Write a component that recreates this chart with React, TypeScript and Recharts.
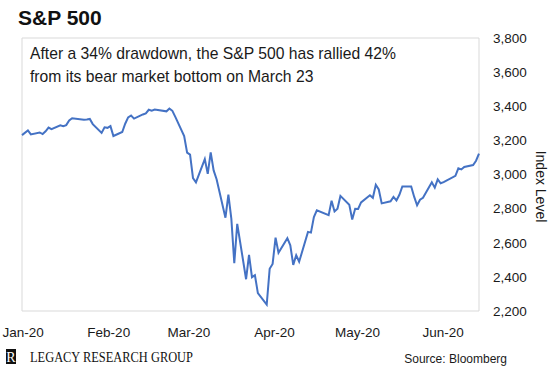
import { LineChart, Line, XAxis, YAxis, ReferenceArea } from "recharts";

// S&P 500 daily closes, trading days
const dates = [
  "2019-12-31",
  "2020-01-02", "2020-01-03", "2020-01-06", "2020-01-07", "2020-01-08", "2020-01-09", "2020-01-10",
  "2020-01-13", "2020-01-14", "2020-01-15", "2020-01-16", "2020-01-17", "2020-01-21", "2020-01-22",
  "2020-01-23", "2020-01-24", "2020-01-27", "2020-01-28", "2020-01-29", "2020-01-30", "2020-01-31",
  "2020-02-03", "2020-02-04", "2020-02-05", "2020-02-06", "2020-02-07", "2020-02-10", "2020-02-11",
  "2020-02-12", "2020-02-13", "2020-02-14", "2020-02-18", "2020-02-19", "2020-02-20", "2020-02-21",
  "2020-02-24", "2020-02-25", "2020-02-26", "2020-02-27", "2020-02-28",
  "2020-03-02", "2020-03-03", "2020-03-04", "2020-03-05", "2020-03-06", "2020-03-09", "2020-03-10",
  "2020-03-11", "2020-03-12", "2020-03-13", "2020-03-16", "2020-03-17", "2020-03-18", "2020-03-19",
  "2020-03-20", "2020-03-23", "2020-03-24", "2020-03-25", "2020-03-26", "2020-03-27", "2020-03-30",
  "2020-03-31",
  "2020-04-01", "2020-04-02", "2020-04-03", "2020-04-06", "2020-04-07", "2020-04-08", "2020-04-09",
  "2020-04-13", "2020-04-14", "2020-04-15", "2020-04-16", "2020-04-17", "2020-04-20", "2020-04-21",
  "2020-04-22", "2020-04-23", "2020-04-24", "2020-04-27", "2020-04-28", "2020-04-29", "2020-04-30",
  "2020-05-01", "2020-05-04", "2020-05-05", "2020-05-06", "2020-05-07", "2020-05-08", "2020-05-11",
  "2020-05-12", "2020-05-13", "2020-05-14", "2020-05-15", "2020-05-18", "2020-05-19", "2020-05-20",
  "2020-05-21", "2020-05-22", "2020-05-26", "2020-05-27", "2020-05-28", "2020-05-29",
  "2020-06-01", "2020-06-02", "2020-06-03",
];

const closes = [
  3230.78,
  3257.85, 3234.85, 3246.28, 3237.18, 3253.05, 3274.7, 3265.35,
  3288.13, 3283.15, 3289.29, 3316.81, 3329.62, 3320.79, 3321.75,
  3325.54, 3295.47, 3243.63, 3276.24, 3273.4, 3283.66, 3225.52,
  3248.92, 3297.59, 3334.69, 3345.78, 3327.71, 3352.09, 3357.75,
  3379.45, 3373.94, 3380.16, 3370.29, 3386.15, 3373.23, 3337.75,
  3225.89, 3128.21, 3116.39, 2978.76, 2954.22,
  3090.23, 3003.37, 3130.12, 3023.94, 2972.37, 2746.56, 2882.23,
  2741.38, 2480.64, 2711.02, 2386.13, 2529.19, 2398.1, 2409.39,
  2304.92, 2237.4, 2447.33, 2475.56, 2630.07, 2541.47, 2626.65,
  2584.59,
  2470.5, 2526.9, 2488.65, 2663.68, 2659.41, 2749.98, 2789.82,
  2761.63, 2846.06, 2783.36, 2799.55, 2874.56, 2823.16, 2736.56,
  2799.31, 2797.8, 2836.74, 2878.48, 2863.39, 2939.51, 2912.43,
  2830.71, 2842.74, 2868.44, 2848.42, 2881.19, 2929.8, 2930.19,
  2870.12, 2820.0, 2852.5, 2863.7, 2953.91, 2922.94, 2971.61,
  2948.51, 2955.45, 2991.77, 3036.13, 3029.73, 3044.31,
  3055.73, 3080.82, 3122.87,
];

const monthLabels = ["Jan-20", "Feb-20", "Mar-20", "Apr-20", "May-20", "Jun-20"];
const monthTickDays = [0, 31, 60, 91, 121, 152]; // days from Jan 1 (label axis)
const yTicks = [2200, 2400, 2600, 2800, 3000, 3200, 3400, 3600, 3800];

const DAY = 86400000;
const start = Date.parse(dates[0]);
const data = dates.map((d, i) => ({
  day: (Date.parse(d) - start) / DAY,
  close: closes[i],
}));
const lastDay = data[data.length - 1].day;

const font = "'Liberation Sans', Arial, sans-serif";
const tickStyle = { fontSize: 13.5, fill: "#1a1a1a", fontFamily: font };

const IndexLabel = (props: any) => {
  const vb = props.viewBox;
  const x = vb.x + 62;
  const y = vb.y + vb.height / 2 + 12;
  return (
    <text
      x={x}
      y={y}
      transform={`rotate(90 ${x} ${y})`}
      textAnchor="middle"
      dominantBaseline="central"
      style={{ fontSize: 14, fill: "#1a1a1a", fontFamily: font }}
    >
      Index Level
    </text>
  );
};

export default function App() {
  return (
    <div
      style={{
        position: "absolute",
        left: 0,
        top: 0,
        width: 560,
        height: 368,
        background: "#fff",
      }}
    >
      <LineChart
        width={560}
        height={368}
        data={data}
        margin={{ top: 38, right: 0, left: 22, bottom: 0 }}
      >
        <XAxis
          xAxisId="m"
          dataKey="day"
          type="number"
          domain={[-0.4, 165]}
          allowDataOverflow
          ticks={monthTickDays}
          tickFormatter={(v: number) => monthLabels[monthTickDays.indexOf(v)]}
          height={57}
          axisLine={false}
          tickLine={false}
          tickSize={0}
          tickMargin={16}
          tick={tickStyle}
          interval={0}
        />
        <XAxis dataKey="day" type="number" domain={[0, lastDay]} height={0} hide />
        <YAxis
          orientation="right"
          width={81}
          domain={[2200, 3800]}
          ticks={yTicks}
          interval={0}
          tickFormatter={(v: number) => v.toLocaleString("en-US")}
          axisLine={false}
          tickLine={false}
          tickSize={0}
          tickMargin={14}
          tick={tickStyle}
          label={<IndexLabel />}
        />
        <ReferenceArea
          x1={0}
          x2={lastDay}
          y1={2200}
          y2={3800}
          fill="none"
          stroke="#d9d9d9"
          strokeWidth={1}
          ifOverflow="visible"
        />
        <Line
          type="linear"
          dataKey="close"
          stroke="#4472C4"
          strokeWidth={2}
          dot={false}
          isAnimationActive={false}
        />
      </LineChart>
      <svg
        width={560}
        height={368}
        style={{ position: "absolute", left: 0, top: 0, pointerEvents: "none" }}
      >
        <text x={18} y={25} style={{ fontSize: 21, fontWeight: 700, fontFamily: font, fill: "#111" }}>
          S&amp;P 500
        </text>
        <text x={30} y={59} style={{ fontSize: 15.7, fontFamily: font, fill: "#1a1a1a" }}>
          After a 34% drawdown, the S&amp;P 500 has rallied 42%
        </text>
        <text x={30} y={82} style={{ fontSize: 15.7, fontFamily: font, fill: "#1a1a1a" }}>
          from its bear market bottom on March 23
        </text>
        <rect x={6} y={349} width={10} height={15} fill="#111" />
        <text
          x={11}
          y={362}
          textAnchor="middle"
          style={{ fontSize: 14, fontFamily: "'Liberation Serif', serif", fill: "#fff" }}
        >
          R
        </text>
        <text
          x={30}
          y={362}
          textLength={163}
          lengthAdjust="spacingAndGlyphs"
          style={{ fontSize: 14, fontFamily: "'Liberation Serif', serif", fill: "#111" }}
        >
          LEGACY RESEARCH GROUP
        </text>
        <text
          x={507}
          y={363}
          textAnchor="end"
          style={{ fontSize: 12, fontFamily: font, fill: "#1a1a1a" }}
        >
          Source: Bloomberg
        </text>
      </svg>
    </div>
  );
}
